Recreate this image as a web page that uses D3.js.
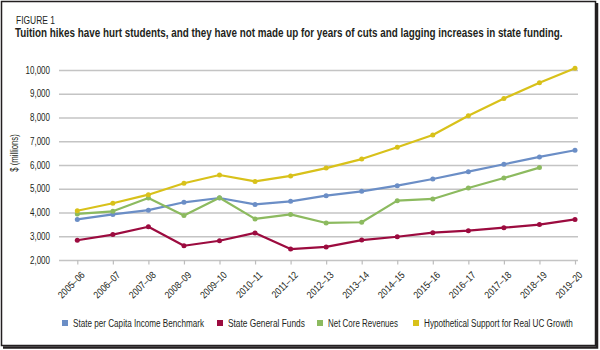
<!DOCTYPE html>
<html>
<head>
<meta charset="utf-8">
<script src="https://cdn.jsdelivr.net/npm/d3@7"></script>
<style>
  body { margin: 0; background: #fff; }
  svg text { font-family: "Liberation Sans", Arial, sans-serif; fill: #231f20; }
</style>
</head>
<body>
<div id="chart"></div>
<script>
// school years on the x axis
const years = ["2005–06", "2006–07", "2007–08", "2008–09", "2009–10", "2010–11", "2011–12",
  "2012–13", "2013–14", "2014–15", "2015–16", "2016–17", "2017–18", "2018–19", "2019–20"];

// $ millions
const benchmark = [3710, 3920, 4100, 4430, 4610, 4340, 4470, 4710, 4890, 5130, 5410, 5720, 6030, 6340, 6620];
const generalFunds = [2830, 3070, 3400, 2600, 2810, 3140, 2460, 2550, 2840, 2980, 3150, 3235, 3360, 3490, 3710];
const netCore = [3940, 4050, 4610, 3870, 4620, 3730, 3920, 3560, 3590, 4500, 4570, 5030, 5450, 5890, null];
const hypothetical = [4075, 4390, 4750, 5230, 5580, 5310, 5540, 5870, 6250, 6750, 7260, 8070, 8800, 9460, 10070];

const yTicks = [2000, 3000, 4000, 5000, 6000, 7000, 8000, 9000, 10000];

const seriesNames = ["State per Capita Income Benchmark", "State General Funds", "Net Core Revenues",
  "Hypothetical Support for Real UC Growth"];
const seriesColors = ["#6b8ec6", "#9c0b3f", "#8cba5f", "#d8c11a"];

const series = [benchmark, generalFunds, netCore, hypothetical].map(function(vals, i) {
  return { name: seriesNames[i], color: seriesColors[i],
    values: vals.map(function(v, j) { return { year: years[j], value: v }; }) };
});

// no narrow font installed, so squeeze glyphs to look like a condensed face
function condense(sel, factor) {
  sel.each(function() {
    const w = this.getComputedTextLength();
    d3.select(this).attr("textLength", w * factor).attr("lengthAdjust", "spacingAndGlyphs");
  });
}

// squeezed text placed at (x, y), scaled to a target width
function narrowText(parent, x, y, str, size, width, bold) {
  const g = parent.append("g");
  const t = g.append("text").attr("x", 0).attr("y", 0)
    .style("font-size", size + "px")
    .style("font-weight", bold ? "bold" : "normal")
    .text(str);
  const w = t.node().getComputedTextLength();
  g.attr("transform", "translate(" + x + "," + y + ") scale(" + (width / w) + ",1)");
  return g;
}

const W = 600, H = 350;
const svg = d3.select("#chart").append("svg")
  .attr("width", W).attr("height", H);

// frame with a heavier shadow edge on right and bottom
svg.append("rect").attr("x", 0).attr("y", 0).attr("width", W).attr("height", H).attr("fill", "#fff");
svg.append("rect")
  .attr("x", 1.5).attr("y", 1.5).attr("width", 594).attr("height", 344)
  .attr("fill", "none").attr("stroke", "#231f20").attr("stroke-width", 1.5);
svg.append("path")
  .attr("d", "M597,3V347.5H3")
  .attr("fill", "none").attr("stroke", "#231f20").attr("stroke-width", 2.5);

// titles
narrowText(svg, 16, 24, "FIGURE 1", 11, 39, false);
narrowText(svg, 15, 37,
  "Tuition hikes have hurt students, and they have not made up for years of cuts and lagging increases in state funding.",
  12, 548, true);

// scales
const plotLeft = 59, plotRight = 578;
const x = d3.scalePoint().domain(years).range([77.3, 575]);
const y = d3.scaleLinear().domain([2000, 10000]).range([260, 70]);

// gridlines + y labels
const yAxis = svg.append("g")
  .attr("transform", "translate(" + plotLeft + ",0)")
  .call(d3.axisLeft(y).tickValues(yTicks).tickSize(-(plotRight - plotLeft)).tickPadding(9)
    .tickFormat(d3.format(",")));
yAxis.select(".domain").remove();
yAxis.selectAll(".tick line").attr("stroke", "#c4c4c4").attr("stroke-width", 1.4);
yAxis.selectAll(".tick text").style("font-size", "10px").call(condense, 0.8);

svg.append("text")
  .attr("transform", "translate(18,153) rotate(-90)")
  .attr("text-anchor", "middle")
  .style("font-size", "10px")
  .text("$ (millions)")
  .call(condense, 0.78);

// x axis ticks + rotated labels
const xAxis = svg.append("g")
  .attr("transform", "translate(0,260)")
  .call(d3.axisBottom(x).tickSize(4.5).tickPadding(2));
xAxis.select(".domain").remove();
xAxis.selectAll(".tick line").attr("stroke", "#bdbdbd").attr("stroke-width", 1.2);
xAxis.selectAll(".tick text")
  .style("font-size", "10px")
  .attr("text-anchor", "end")
  .attr("dy", 0)
  .attr("transform", "translate(3,11) rotate(-45)")
  .call(condense, 0.85);

// lines
const line = d3.line()
  .defined(function(d) { return d.value != null; })
  .x(function(d) { return x(d.year); })
  .y(function(d) { return y(d.value); });

const sg = svg.selectAll(".series").data(series).enter()
  .append("g").attr("class", "series");

sg.append("path")
  .attr("d", function(d) { return line(d.values); })
  .attr("fill", "none")
  .attr("stroke", function(d) { return d.color; })
  .attr("stroke-width", 2.2)
  .attr("stroke-linejoin", "round");

sg.selectAll("circle")
  .data(function(d) { return d.values.filter(function(v) { return v.value != null; })
    .map(function(v) { return { year: v.year, value: v.value, color: d.color }; }); })
  .enter().append("circle")
  .attr("cx", function(d) { return x(d.year); })
  .attr("cy", function(d) { return y(d.value); })
  .attr("r", 2.5)
  .attr("fill", function(d) { return d.color; });

// legend
const legendX = [62, 217, 317, 413];
const legendW = [131, 77, 70, 149];
const lg = svg.selectAll(".legend").data(series).enter()
  .append("g").attr("class", "legend")
  .attr("transform", function(d, i) { return "translate(" + legendX[i] + ",320)"; });
lg.append("rect").attr("width", 6).attr("height", 6).attr("fill", function(d) { return d.color; });
lg.each(function(d, i) {
  narrowText(d3.select(this), 11, 6.5, d.name, 10, legendW[i], false);
});
</script>
</body>
</html>
